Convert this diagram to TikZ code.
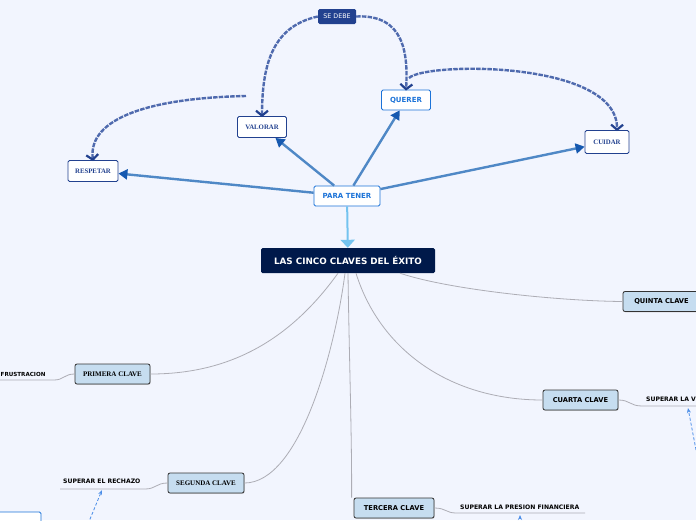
\documentclass[tikz,border=0pt]{standalone}
\usepackage{fontspec}
\setmainfont{DejaVu Sans}
\newfontfamily\serifa{Liberation Serif}
\usetikzlibrary{arrows.meta}
\usetikzlibrary{shadows}
\definecolor{fondo}{HTML}{F2F5FE}
\definecolor{marino}{HTML}{00194A}
\definecolor{azul}{HTML}{1C73D8}
\definecolor{azulosc}{HTML}{22418F}
\definecolor{linea}{HTML}{4F88C6}
\definecolor{punta}{HTML}{1659B0}
\definecolor{celeste}{HTML}{74C3EF}
\definecolor{clave}{HTML}{C6DDF0}
\definecolor{gris}{HTML}{ADADB5}
\definecolor{trazo}{HTML}{4F6AAE}
\definecolor{guion}{HTML}{4C8EE8}
\tikzset{caja/.style={fill=white,rounded corners=1.5pt,line width=0.8pt,inner sep=0pt,font=\bfseries\fontsize{7}{8}\selectfont},
  cajaazul/.style={caja,draw=azul,text=azul},
  cajaserif/.style={caja,draw=azulosc,text=azulosc,font=\serifa\bfseries\fontsize{6.8}{7}\selectfont},
  clavebox/.style={fill=clave,draw=black!80,rounded corners=2pt,line width=0.8pt,inner sep=0pt,minimum height=20pt,
    font=\bfseries\fontsize{6.7}{7}\selectfont,drop shadow={shadow xshift=0.6pt,shadow yshift=-0.8pt,opacity=0.35}},
  hoja/.style={inner sep=0pt,font=\bfseries\fontsize{6.1}{7}\selectfont},
  flecha/.style={line width=2.4pt,draw=linea,-{Triangle[length=9pt,width=10pt,color=punta]}},
  rayado/.style={line width=2.4pt,draw=trazo,dash pattern=on 4.5pt off 1.2pt,-{Straight Barb[length=5pt,width=12pt,line width=2.2pt,color=azulosc]}},
  gline/.style={draw=gris,line width=0.8pt},
  punteado/.style={draw=guion,line width=0.8pt,dash pattern=on 3pt off 2pt,-{Stealth[length=5pt,width=4pt]}}}

\begin{document}
\begin{tikzpicture}[x=1pt, y=-1pt]
				\fill[fondo](0,0) rectangle (696,520);
				\useasboundingbox (0,0) rectangle (696,520);
				\clip (0,0) rectangle (696,520);
				%
				\node[fill=azulosc,rounded corners=1.5pt,text=white,inner sep=0pt,minimum width=38pt,minimum height=15pt,font=\fontsize{6.3}{7}\selectfont](sedebe) at (337,16.5){SE DEBE};
				\node[cajaazul,minimum width=49pt,minimum height=20pt](querer) at (406,100){QUERER};
				\node[cajaserif,minimum width=49pt,minimum height=21pt](valorar) at (262,127){VALORAR};
				\node[cajaserif,minimum width=50pt,minimum height=21pt](respetar) at (93,171){RESPETAR};
				\node[cajaserif,minimum width=44pt,minimum height=23pt](cuidar) at (607,142){CUIDAR};
				\node[cajaazul,minimum width=66pt,minimum height=20pt](paratener) at (347,196){PARA TENER};
				\node[fill=marino,rounded corners=1.5pt,text=white,inner sep=0pt,minimum width=174pt,minimum height=25pt,font=\bfseries\fontsize{8.8}{10}\selectfont](cinco) at (348,260.5){LAS CINCO CLAVES DEL ÉXITO};
				%
				\node[clavebox,minimum width=77pt](quinta) at (661.5,301.5){QUINTA CLAVE};
				\node[clavebox,minimum width=75pt](cuarta) at (580.5,400){CUARTA CLAVE};
				\node[clavebox,minimum width=80pt](tercera) at (394,508){TERCERA CLAVE};
				\node[clavebox,minimum width=76pt,font=\serifa\bfseries\fontsize{7}{8}\selectfont](segunda) at (206,483){SEGUNDA CLAVE};
				\node[clavebox,minimum width=75pt,font=\serifa\bfseries\fontsize{7}{8}\selectfont](primera) at (112.5,374){PRIMERA CLAVE};
				%
				\node[hoja,anchor=west](rechazo) at (63,481.5){SUPERAR EL RECHAZO};
				\node[hoja,anchor=west,font=\bfseries\fontsize{5.6}{7}\selectfont](frustra) at (0.5,374){FRUSTRACION};
				\node[hoja,anchor=west](presion) at (460,507.5){SUPERAR LA PRESION FINANCIERA};
				\node[hoja,anchor=west](superarv) at (646,399.5){SUPERAR LA V};
				\node[draw=azul,fill=white,rounded corners=1.5pt,line width=0.8pt,minimum width=48pt,minimum height=24pt](oculto) at (17,524){};
				%
				\coordinate (r1) at (145,489); \coordinate (r2) at (60,489);
				\coordinate (f1) at (54,380); \coordinate (f2) at (-5,380);
				\coordinate (p1) at (456,513); \coordinate (p2) at (585,513);
				\coordinate (v1) at (642,406); \coordinate (v2) at (700,406);
				\coordinate (vr) at (246,96);
				\coordinate (qc) at (409,78);
				%
				\draw[flecha](paratener)--(respetar);
				\draw[flecha](paratener)--(valorar);
				\draw[flecha](paratener)--(querer);
				\draw[flecha](paratener)--(cuidar);
				\draw[line width=2pt,draw=celeste,-{Triangle[length=8pt,width=14pt]}](paratener)--(cinco);
				%
				\draw[rayado](sedebe.west) .. controls (275,26) and (262,60) .. ([yshift=-1pt]valorar.north);
				\draw[rayado](sedebe.east) .. controls (405,14) and (408,55) .. ([yshift=-1pt]querer.north);
				\draw[rayado](vr) .. controls (150,98) and (88,118) .. ([yshift=-1pt]respetar.north);
				\draw[rayado](qc) .. controls (425,62) and (618,60) .. ([xshift=10pt,yshift=-1pt]cuidar.north);
				%
				\draw[gline]([xshift=-10pt]cinco.south) .. controls (290,340) and (230,374) .. (primera.east);
				\draw[gline]([xshift=-3pt]cinco.south) .. controls (335,350) and (300,483) .. (segunda.east);
				\draw[gline](cinco.south) .. controls (349,350) and (352,440) .. ([xshift=-2pt]tercera.north west);
				\draw[gline]([xshift=8pt]cinco.south) .. controls (380,350) and (450,400) .. (cuarta.west);
				\draw[gline]([xshift=52pt]cinco.south) .. controls (450,290) and (560,301) .. (quinta.west);
				%
				\draw[gline](primera.west) .. controls (64,374) and (64,380) .. (f1) -- (f2);
				\draw[gline](segunda.west) .. controls (156,483) and (156,489) .. (r1) -- (r2);
				\draw[gline](tercera.east) .. controls (446,508) and (446,513) .. (p1) -- (p2);
				\draw[gline](cuarta.east) .. controls (630,400) and (630,406) .. (v1) -- (v2);
				%
				\coordinate (rf) at (88,524); \coordinate (rt) at (102,490);
				\coordinate (pf) at (520,524); \coordinate (pt) at (520,515);
				\coordinate (vf) at (697,455); \coordinate (vt) at (688,408);
				\draw[punteado](rf)--(rt);
				\draw[punteado](pf)--(pt);
				\draw[punteado](vf)--(vt);
			\end{tikzpicture}
\end{document}
